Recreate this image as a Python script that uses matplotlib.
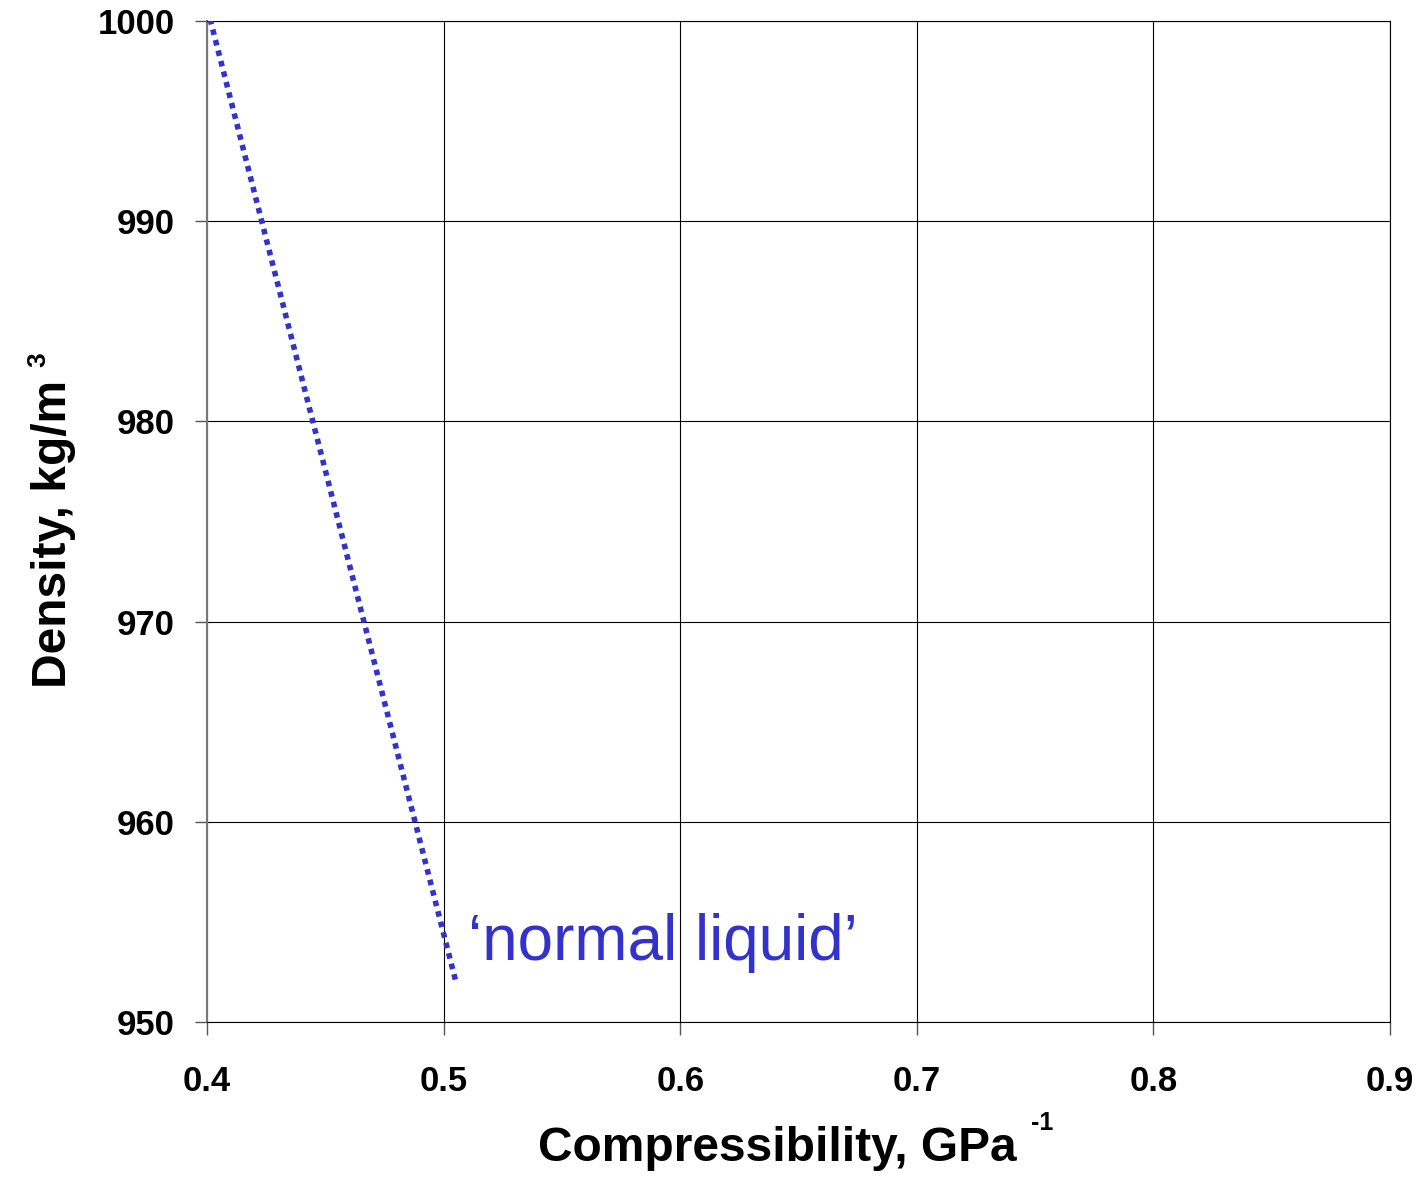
import matplotlib
matplotlib.use("Agg")
import matplotlib.pyplot as plt

plt.rcParams['font.family'] = ['Liberation Sans', 'DejaVu Sans']

# Data
compressibility = [0.4013, 0.5050]
density = [1000.1, 952.1]
x_ticks = [0.4, 0.5, 0.6, 0.7, 0.8, 0.9]
x_tick_labels = ["0.4", "0.5", "0.6", "0.7", "0.8", "0.9"]
y_ticks = [950, 960, 970, 980, 990, 1000]
y_tick_labels = ["950", "960", "970", "980", "990", "1000"]
annotation = "\u2018normal liquid\u2019"
annotation_pos = (0.5103, 953.1)

W, H = 1421, 1188
fig = plt.figure(figsize=(W / 100, H / 100), dpi=100)
ax = fig.add_axes([207 / W, 1 - 1022 / H, (1390 - 207) / W, (1022 - 21) / H])

ax.plot(compressibility, density, color="#3333CC", linewidth=4.0,
        linestyle=(0, (1, 0.95)), dash_capstyle="butt", zorder=3)

ax.text(annotation_pos[0], annotation_pos[1], annotation, color="#3333CC",
        fontsize=46, ha="left", va="baseline", zorder=4)

ax.set_xlim(0.4, 0.9)
ax.set_ylim(950, 1000)
ax.set_xticks(x_ticks)
ax.set_xticklabels(x_tick_labels, fontsize=25, fontweight="bold")
ax.set_yticks(y_ticks)
ax.set_yticklabels(y_tick_labels, fontsize=25, fontweight="bold")
ax.tick_params(axis="x", direction="out", length=9, width=1, color="#555555", pad=22)
ax.tick_params(axis="y", direction="out", length=9, width=1, color="#555555", pad=14)
ax.grid(True, color="black", linewidth=0.8)
for s in ax.spines.values():
    s.set_color("black")
    s.set_linewidth(0.8)
ax.spines["left"].set_color("#777777")
ax.spines["left"].set_linewidth(1.5)

# Axis labels with separated superscripts
fig.text(538 / W, 1 - 1161 / H, "Compressibility, GPa", fontsize=34.5,
         fontweight="bold", ha="left", va="baseline")
fig.text(1031 / W, 1 - 1130 / H, "-1", fontsize=18, fontweight="bold",
         ha="left", va="baseline")
fig.text(66 / W, 1 - 688 / H, "Density, kg/m", fontsize=34.5, fontweight="bold",
         rotation=90, ha="left", va="baseline", rotation_mode="anchor")
fig.text(45 / W, 1 - 352 / H, "3", fontsize=19, fontweight="bold",
         rotation=90, ha="right", va="baseline", rotation_mode="anchor")

fig.savefig("out.png", dpi=100)
